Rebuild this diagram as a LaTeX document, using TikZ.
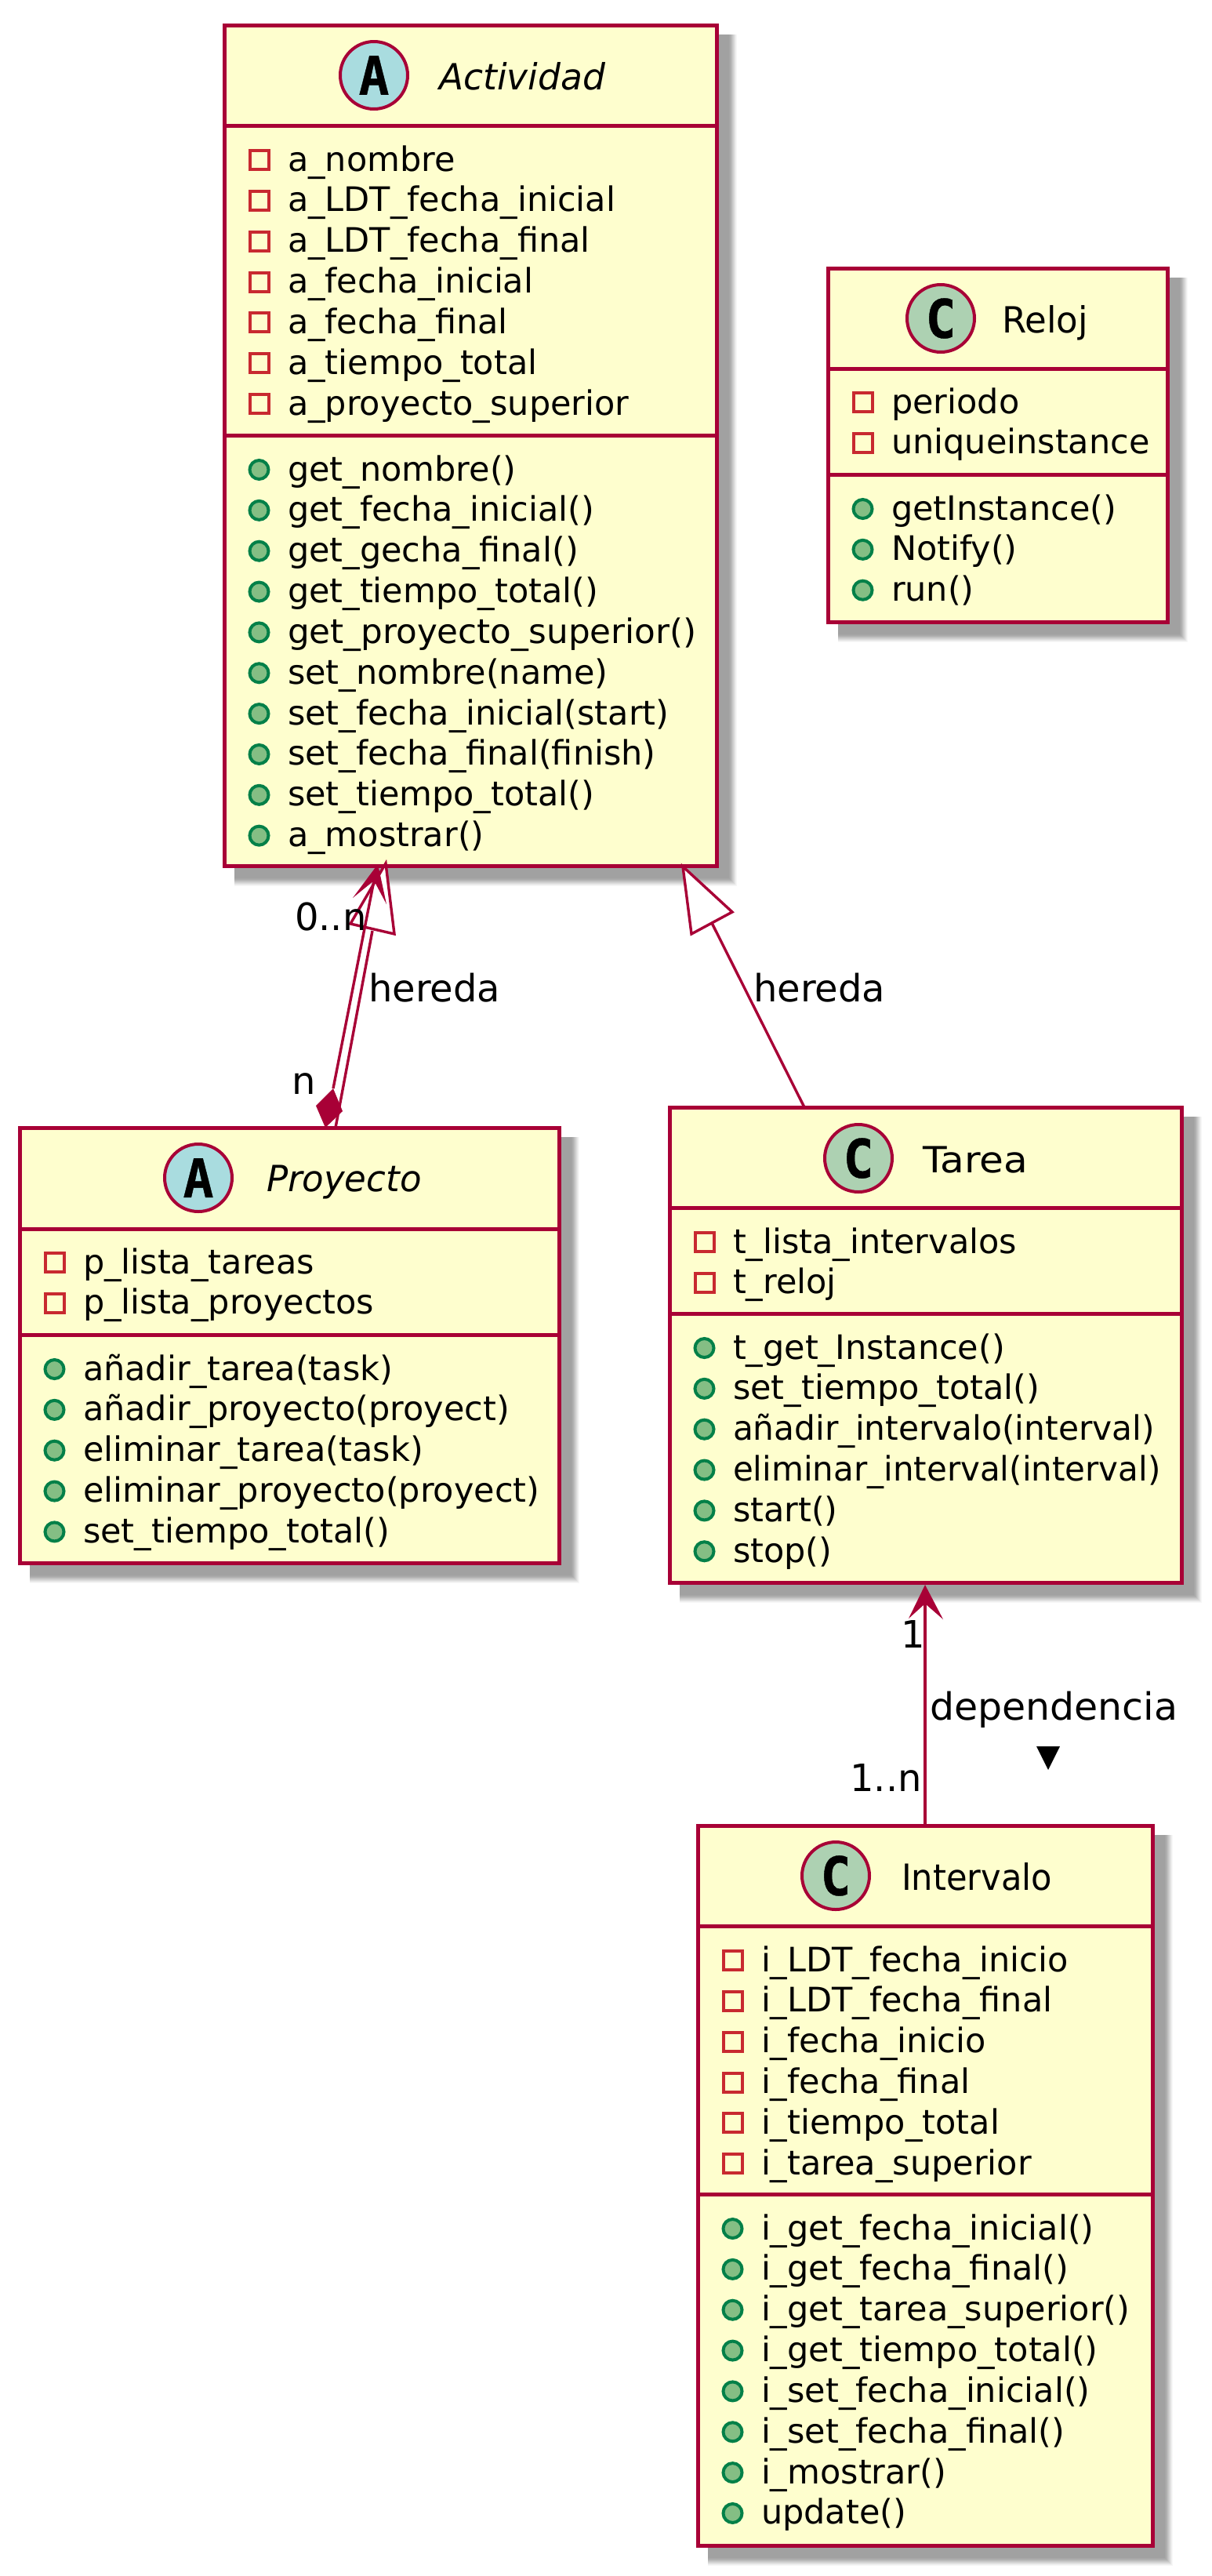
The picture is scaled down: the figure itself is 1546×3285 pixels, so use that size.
\documentclass[tikz,border=0pt]{standalone}
\usepackage{fontspec}
\setmainfont{DejaVu Sans}
\usetikzlibrary{calc}
\definecolor{umlred}{HTML}{A80036}
\definecolor{umlfill}{HTML}{FEFECE}
\definecolor{circC}{HTML}{ADD1B2}
\definecolor{circA}{HTML}{A9DCDF}
\definecolor{privc}{HTML}{C82930}
\definecolor{pubf}{HTML}{84BE84}
\definecolor{pubs}{HTML}{038048}
\newcommand{\bodyfont}{\fontsize{43}{52}\selectfont}
\newcommand{\titlefont}{\fontsize{46}{52}\selectfont}
\newcommand{\labelfont}{\fontsize{48}{52}\selectfont}
\newfontfamily\spotfam{DejaVu Sans Mono Bold}[FakeBold=0.6]
\newcommand{\letterfont}{\spotfam\fontsize{68}{68}\selectfont}
\tikzset{
  x=1pt,y=-1pt,
  classbox/.style={draw=umlred,fill=umlfill,line width=5pt,inner sep=0pt,outer sep=0pt},
  sepline/.style={draw=umlred,line width=5pt},
  conn/.style={draw=umlred,line width=3.4pt},
  txt/.style={anchor=base west,inner sep=0pt,outer sep=0pt,font=\bodyfont,text=black},
  titletxt/.style={anchor=base west,inner sep=0pt,outer sep=0pt,font=\titlefont,text=black},
  privicon/.style={draw=privc,line width=4pt,inner sep=0pt,minimum size=24pt},
  pubicon/.style={draw=pubs,fill=pubf,line width=4pt,circle,inner sep=0pt,minimum size=24pt},
  spot/.style={draw=umlred,line width=4pt,circle,inner sep=0pt,minimum size=86pt},
  spotletter/.style={inner sep=0pt,font=\letterfont,text=black},
  lab/.style={anchor=base west,inner sep=0pt,font=\labelfont,text=black},
}
% name, L, T, R, B
\newcommand{\classframe}[5]{%
  \foreach \k/\c in {26/3,25/6,24/10,23/14,22/18,21/22,20/26,19/30,18/33,17/35,16/37}{%
    \fill[black!\c!white] (#2+13,#3+12) rectangle (#4+\k,#5+\k);}%
  \node[classbox,minimum width=#4-#2,minimum height=#5-#3] (#1) at ({(#2+#4)/2},{(#3+#5)/2}) {};}
% name prefix, x of left, first baseline, list
\newcommand{\privrows}[4]{%
  \foreach \t [count=\i from 0] in {#4}{%
    \node[privicon] (#1p\i) at (#2+44.5,#3-14+51.85*\i) {};
    \node[txt] (#1pt\i) at (#2+81,#3+51.85*\i) {\t};}}
\newcommand{\pubrows}[4]{%
  \foreach \t [count=\i from 0] in {#4}{%
    \node[pubicon] (#1m\i) at (#2+44.5,#3-14+51.85*\i) {};
    \node[txt] (#1mt\i) at (#2+81,#3+51.85*\i) {\t};}}
\begin{document}
\begin{tikzpicture}
\useasboundingbox (0,0) rectangle (1546,3285);
\fill[white] (0,0) rectangle (1546,3285);
% Actividad
\classframe{act}{286}{32}{914}{1104}
\draw[sepline] (act.north west |- 0,160) -- (act.north east |- 0,160);
\draw[sepline] (act.north west |- 0,555) -- (act.north east |- 0,555);
\node[spot,fill=circA] (actS) at (477,96) {};
\node[spotletter] (actL) at (actS) {\scalebox{.95}[1]{A}};
\node[titletxt,font=\titlefont\itshape] (actT) at (560,114) {\scalebox{.99}[1]{Actividad}};
\privrows{act}{286}{218}{a\_nombre,a\_LDT\_fecha\_inicial,a\_LDT\_fecha\_final,a\_fecha\_inicial,a\_fecha\_final,a\_tiempo\_total,a\_proyecto\_superior}
\pubrows{act}{286}{613}{get\_nombre(),get\_fecha\_inicial(),get\_gecha\_final(),get\_tiempo\_total(),\scalebox{1.016}[1]{get\_proyecto\_superior()},set\_nombre(name),set\_fecha\_inicial(start),set\_fecha\_final(finish),set\_tiempo\_total(),a\_mostrar()}
% Reloj
\classframe{rel}{1056}{342}{1489}{793}
\draw[sepline] (rel.north west |- 0,470) -- (rel.north east |- 0,470);
\draw[sepline] (rel.north west |- 0,605) -- (rel.north east |- 0,605);
\node[spot,fill=circC] (relS) at (1200,406) {};
\node[spotletter] (relL) at (relS) {\scalebox{.95}[1]{C}};
\node[titletxt] (relT) at (1278,424) {\scalebox{.98}[1]{Reloj}};
\privrows{rel}{1056}{527}{periodo,uniqueinstance}
\pubrows{rel}{1056}{663}{getInstance(),Notify(),run()}
% Proyecto
\classframe{pro}{25}{1438}{713}{1993}
\draw[sepline] (pro.north west |- 0,1567) -- (pro.north east |- 0,1567);
\draw[sepline] (pro.north west |- 0,1702) -- (pro.north east |- 0,1702);
\node[spot,fill=circA] (proS) at (253,1502) {};
\node[spotletter] (proL) at (proS) {\scalebox{.95}[1]{A}};
\node[titletxt,font=\titlefont\itshape] (proT) at (340,1519) {\scalebox{.98}[1]{Proyecto}};
\privrows{pro}{25}{1624}{p\_lista\_tareas,p\_lista\_proyectos}
\pubrows{pro}{25}{1760}{añadir\_tarea(task),añadir\_proyecto(proyect),eliminar\_tarea(task),eliminar\_proyecto(proyect),set\_tiempo\_total()}
% Tarea
\classframe{tar}{854}{1412}{1507}{2018}
\draw[sepline] (tar.north west |- 0,1540) -- (tar.north east |- 0,1540);
\draw[sepline] (tar.north west |- 0,1675) -- (tar.north east |- 0,1675);
\node[spot,fill=circC] (tarS) at (1095,1477) {};
\node[spotletter] (tarL) at (tarS) {\scalebox{.95}[1]{C}};
\node[titletxt] (tarT) at (1177,1495) {\scalebox{1.09}[1]{Tarea}};
\privrows{tar}{854}{1598}{t\_lista\_intervalos,t\_reloj}
\pubrows{tar}{854}{1733}{t\_get\_Instance(),set\_tiempo\_total(),\scalebox{.985}[1]{añadir\_intervalo(interval)},\scalebox{.977}[1]{eliminar\_interval(interval)},start(),stop()}
% Intervalo
\classframe{int}{890}{2328}{1470}{3246}
\draw[sepline] (int.north west |- 0,2456) -- (int.north east |- 0,2456);
\draw[sepline] (int.north west |- 0,2798) -- (int.north east |- 0,2798);
\node[spot,fill=circC] (intS) at (1066,2392) {};
\node[spotletter] (intL) at (intS) {\scalebox{.95}[1]{C}};
\node[titletxt] (intT) at (1150,2410) {\scalebox{.94}[1]{Intervalo}};
\privrows{int}{890}{2514}{i\_LDT\_fecha\_inicio,i\_LDT\_fecha\_final,i\_fecha\_inicio,i\_fecha\_final,i\_tiempo\_total,i\_tarea\_superior}
\pubrows{int}{890}{2856}{i\_get\_fecha\_inicial(),i\_get\_fecha\_final(),i\_get\_tarea\_superior(),i\_get\_tiempo\_total(),i\_set\_fecha\_inicial(),i\_set\_fecha\_final(),i\_mostrar(),update()}
% Connectors
% Proyecto -|> Actividad
\coordinate (h1) at (475,1187);
\fill[white] (492,1101) -- (447,1178) -- (503,1191) -- cycle;
\draw[conn] (492,1101) -- (447,1178) -- (503,1191) -- cycle;
\draw[conn] ($(pro.north west)+(403,0)$) -- (h1);
% Proyecto *--> Actividad
\draw[conn] ($(pro.north west)+(400,-50)$) -- ($(act.south west)+(191,19)$);
\fill[umlred] ($(act.south west)+(196,-2)$) -- ($(act.south west)+(164,41)$) -- ($(act.south west)+(191,19)$) -- ($(act.south west)+(207,49)$) -- cycle;
\fill[umlred] ($(pro.north west)+(400,-50)$) -- ($(pro.north west)+(378,-28)$) -- ($(pro.north west)+(390,0)$) -- ($(pro.north west)+(412,-21)$) -- cycle;
% Tarea -|> Actividad
\coordinate (h2) at (908,1177);
\fill[white] (871,1105) -- (934,1163) -- (882,1191) -- cycle;
\draw[conn] (871,1105) -- (934,1163) -- (882,1191) -- cycle;
\draw[conn] ($(tar.north west)+(172,0)$) -- (h2);
% Intervalo --> Tarea
\draw[conn] ($(int.north west)+(290,0)$) -- ($(tar.south west)+(326,27)$);
\fill[umlred] ($(tar.south west)+(326,3)$) -- ($(tar.south west)+(305,46)$) -- ($(tar.south west)+(326,27)$) -- ($(tar.south west)+(349,47)$) -- cycle;
% labels
\node[lab] (l0n) at (376,1186) {0..n};
\node[lab] (ln) at (372,1395) {n};
\node[lab] (lh1) at (470,1277) {hereda};
\node[lab] (lh2) at (961,1277) {hereda};
\node[lab] (l1) at (1149,2101) {1};
\node[lab] (l1n) at (1084,2284) {1..n};
\node[lab] (ldep) at (1186,2193) {\scalebox{1.02}[1]{dependencia}};
\fill[black] (1322,2227) -- (1352,2227) -- (1337,2257) -- cycle;
\end{tikzpicture}
\end{document}
